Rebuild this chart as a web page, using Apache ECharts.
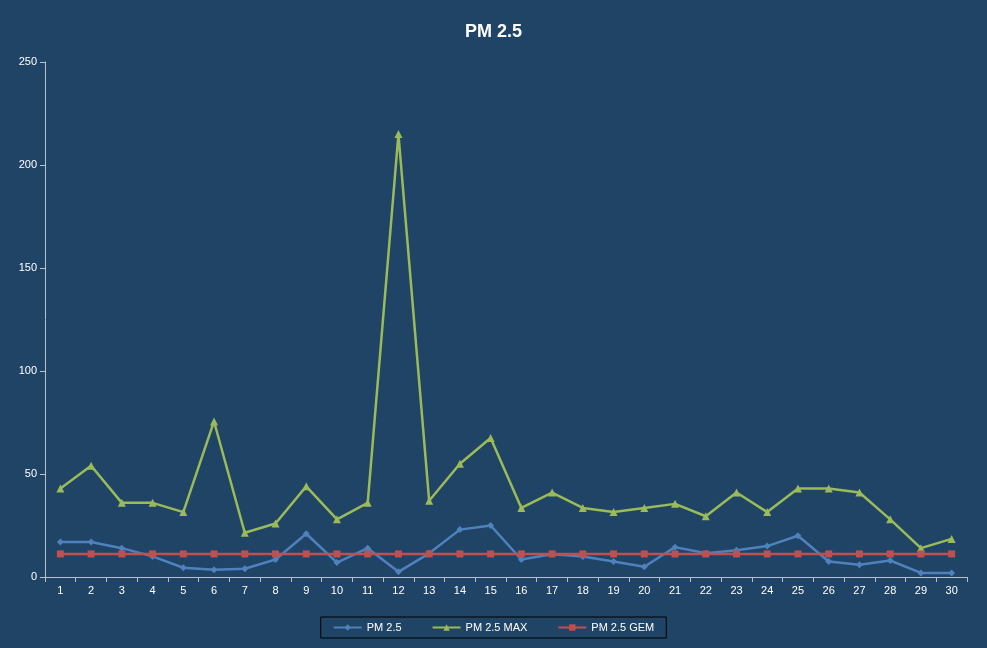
<!DOCTYPE html>
<html><head><meta charset="utf-8">
<script src="https://cdn.jsdelivr.net/npm/echarts@6/dist/echarts.min.js"></script>
<style>html,body{margin:0;padding:0;background:#fff}#c{width:987px;height:648px}</style>
</head><body><div id="c"></div>
<script>
const days = Array.from({length:30},(_,i)=>String(i+1));
const pm25 = [17,17,14,10,4.5,3.5,4,8.5,21,7,14,2.5,11.5,23,25,8.5,11,10,7.5,5,14.5,11.5,13,15,20,7.5,6,8,2,2];
const pm25max = [43,54,36,36,31.5,75.5,21.5,26,44,28,36,215,37,55,67.5,33.5,41,33.5,31.5,33.5,35.5,29.5,41,31.5,43,43,41,28,14,18.5];
const pm25gem = Array(30).fill(11.2);
const chart = echarts.init(document.getElementById('c'));
const axisCol = '#b8c2cc';
chart.setOption({
  backgroundColor:'#1f4466',
  animation:false,
  title:{text:'PM 2.5',left:'center',top:18,textStyle:{color:'#fff',fontSize:18,fontWeight:'bold',fontFamily:'Liberation Sans'}},
  grid:{left:45,right:20,top:62,bottom:71},
  legend:{bottom:10,left:'center',itemGap:30,borderColor:'#000',borderWidth:1,padding:[5,12],
    textStyle:{color:'#fff',fontSize:11,fontFamily:'Liberation Sans'},itemWidth:28,itemHeight:8},
  xAxis:{type:'category',data:days,boundaryGap:true,
    axisLine:{lineStyle:{color:axisCol}},axisTick:{show:true,lineStyle:{color:axisCol}},
    axisLabel:{color:'#fff',fontSize:11,fontFamily:'Liberation Sans'}},
  yAxis:{type:'value',min:0,max:250,interval:50,
    axisLine:{show:true,lineStyle:{color:axisCol}},axisTick:{show:true,lineStyle:{color:axisCol}},
    splitLine:{show:false},axisLabel:{color:'#fff',fontSize:11,fontFamily:'Liberation Sans'}},
  series:[
    {name:'PM 2.5',type:'line',data:pm25,symbol:'diamond',symbolSize:7,itemStyle:{color:'#4f81bd'},lineStyle:{width:2.5,color:'#4f81bd'}},
    {name:'PM 2.5 MAX',type:'line',data:pm25max,symbol:'triangle',symbolSize:8,itemStyle:{color:'#9bbb59'},lineStyle:{width:2.5,color:'#9bbb59'}},
    {name:'PM 2.5 GEM',type:'line',data:pm25gem,symbol:'rect',symbolSize:7,itemStyle:{color:'#c0504d'},lineStyle:{width:2.5,color:'#c0504d'}}
  ]
});
</script></body></html>
